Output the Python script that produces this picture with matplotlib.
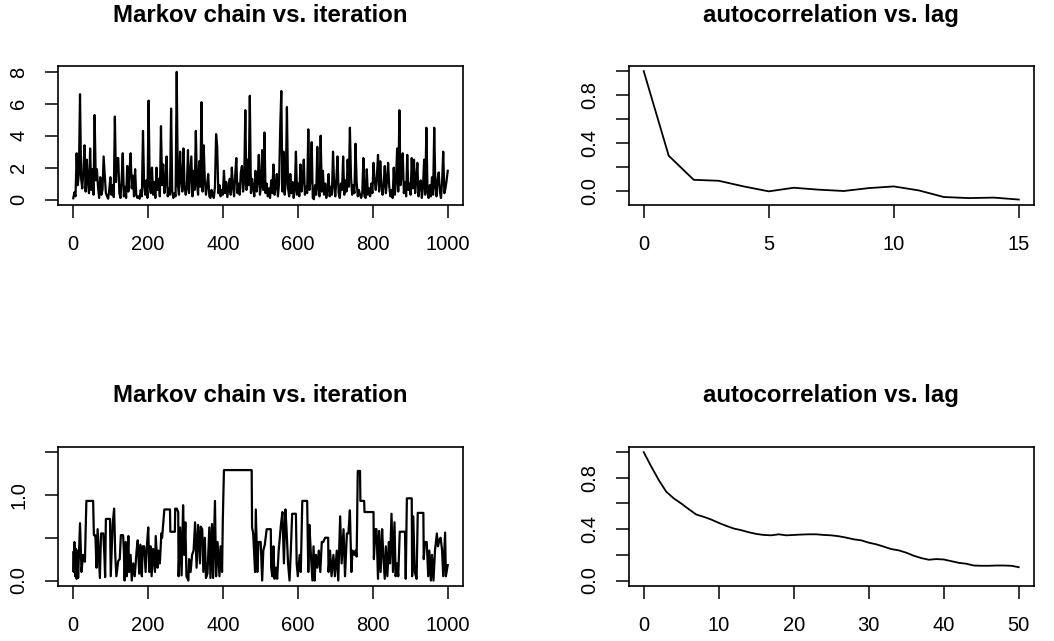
import matplotlib.pyplot as plt
import numpy as np

plt.rcParams['font.family'] = ['Liberation Sans', 'DejaVu Sans']

# chaine du haut : une valeur lue toutes les 3 iterations
iter_haut = np.arange(1, 1001, 3)
chaine_haut = [
    0.08, 0.45, 0.2, 2.9, 0.9, 1.6, 6.6, 1.3, 0.7, 1.8,
    3.4, 0.5, 2.5, 1.1, 0.4, 3.2, 0.6, 1.9, 0.3, 5.3,
    1.2, 1.9, 0.8, 0.1, 1.4, 0.3, 0.6, 2.7, 1.5, 0.4,
    0.2, 0.05, 0.6, 1.4, 0.3, 0.9, 0.15, 5.2, 1.1, 2.6,
    2.6, 0.4, 0.1, 1.2, 2.9, 0.2, 0.8, 0.1, 2.1, 0.5,
    1.8, 2.9, 0.7, 1.5, 0.2, 1.9, 0.3, 0.1, 0.2, 0.05,
    0.6, 0.2, 4.3, 0.9, 0.3, 1.2, 0.1, 6.2, 0.8, 0.4,
    2.0, 0.3, 1.1, 0.1, 2.0, 0.6, 1.3, 0.2, 4.6, 0.9,
    2.2, 0.4, 1.0, 2.7, 0.2, 0.7, 0.3, 5.7, 0.5, 0.1,
    0.4, 0.2, 8.0, 0.9, 0.3, 3.0, 1.2, 0.5, 3.2, 0.8,
    0.3, 0.7, 3.1, 0.4, 1.5, 2.7, 0.2, 1.8, 0.6, 4.3,
    1.0, 0.3, 2.4, 0.8, 6.1, 0.5, 3.4, 1.2, 0.3, 0.9,
    1.6, 0.2, 0.1, 0.6, 0.3, 0.1, 0.8, 4.1, 3.3, 0.4,
    0.9, 0.2, 0.6, 0.3, 1.8, 0.4, 1.1, 0.15, 0.7, 1.3,
    0.3, 2.0, 0.8, 0.2, 1.5, 2.6, 0.4, 1.0, 0.3, 1.7,
    2.1, 0.5, 1.2, 5.6, 0.6, 2.5, 0.9, 6.5, 0.4, 1.3,
    0.7, 0.2, 1.8, 0.5, 1.1, 2.8, 0.3, 0.9, 3.1, 0.6,
    4.2, 0.4, 1.0, 0.2, 0.7, 0.1, 1.2, 0.4, 2.2, 0.3,
    0.8, 1.6, 0.2, 1.0, 4.4, 6.8, 0.5, 3.0, 0.3, 1.1,
    5.8, 0.7, 0.2, 1.6, 0.4, 1.1, 0.1, 0.6, 3.0, 0.3,
    1.0, 0.2, 2.2, 0.5, 1.2, 2.5, 0.3, 0.8, 0.4, 4.4,
    0.6, 1.2, 3.6, 0.1, 0.02, 0.9, 0.3, 3.3, 0.7, 0.2,
    4.0, 0.5, 1.8, 0.3, 1.0, 0.1, 0.6, 1.6, 0.2, 0.8,
    0.3, 3.0, 0.9, 0.2, 1.3, 2.7, 0.4, 0.1, 1.0, 0.6,
    2.7, 0.3, 1.2, 0.5, 2.5, 0.8, 4.5, 1.4, 0.3, 0.9,
    0.4, 3.5, 1.1, 0.2, 0.6, 0.3, 0.1, 0.4, 2.6, 0.2,
    0.1, 1.9, 0.3, 0.7, 0.2, 1.0, 0.4, 2.3, 1.2, 0.6,
    1.4, 2.8, 0.5, 2.4, 1.0, 0.3, 0.9, 2.1, 0.4, 1.2,
    2.3, 0.8, 0.2, 0.6, 0.1, 2.0, 0.3, 1.2, 3.2, 0.5,
    5.6, 0.9, 1.5, 2.9, 0.4, 1.1, 0.2, 2.8, 0.6, 1.0,
    0.3, 2.6, 0.7, 2.5, 0.4, 1.2, 2.3, 0.2, 0.9, 1.2,
    0.1, 0.8, 2.5, 0.3, 4.5, 0.6, 0.1, 0.9, 0.2, 1.4,
    0.3, 4.5, 0.8, 0.2, 1.3, 1.7, 0.5, 0.1, 1.1, 3.0,
    0.4, 0.7, 1.2, 1.8,
]

lag_haut = np.arange(0, 16)
acf_haut = [1.0, 0.296, 0.096, 0.088, 0.041, 0.0, 0.030, 0.014, 0.003,
            0.027, 0.041, 0.008, -0.047, -0.056, -0.052, -0.068]

# chaine du bas (iteration, valeur) : les paliers sont les rejets
trace_bas = [
    (1, 0.33), (2, 0.1), (4, 0.45), (6, 0.05), (8, 0.37), (10, 0.02), (12, 0.35),
    (14, 0.03), (16, 0.3), (19, 0.67), (23, 0.1), (27, 0.3), (32, 0.22), (36, 0.93),
    (54, 0.93), (56, 0.53), (60, 0.53), (63, 0.15), (66, 0.6), (72, 0.03), (75, 0.55),
    (81, 0.55), (84, 0.3), (86, 0.04), (88, 0.72), (99, 0.72), (101, 0.05), (106, 0.65),
    (110, 0.84), (113, 0.3), (116, 0.05), (121, 0.23), (125, 0.25), (128, 0.53),
    (134, 0.53), (136, 0.35), (138, 0.0), (141, 0.45), (144, 0.05), (148, 0.52),
    (150, 0.1), (154, 0.3), (157, 0.0), (161, 0.2), (165, 0.05), (170, 0.35),
    (173, 0.47), (177, 0.08), (180, 0.42), (184, 0.05), (186, 0.4), (190, 0.4),
    (194, 0.1), (197, 0.38), (201, 0.62), (204, 0.1), (207, 0.4), (210, 0.05),
    (214, 0.37), (219, 0.1), (221, 0.52), (226, 0.15), (228, 0.35), (232, 0.2),
    (236, 0.55), (238, 0.5), (244, 0.83), (259, 0.83), (260, 0.57), (272, 0.57),
    (273, 0.84), (277, 0.84), (281, 0.8), (282, 0.05), (286, 0.62), (290, 0.06),
    (294, 0.88), (297, 0.3), (300, 0.68), (303, 0.05), (308, 0.0), (310, 0.25),
    (314, 0.1), (318, 0.3), (322, 0.35), (326, 0.68), (330, 0.15), (334, 0.65),
    (339, 0.2), (341, 0.63), (345, 0.6), (348, 0.1), (352, 0.5), (355, 0.03),
    (359, 0.08), (364, 0.62), (367, 0.03), (371, 0.66), (374, 0.03), (379, 0.93),
    (382, 0.05), (386, 0.45), (391, 0.05), (394, 0.4), (398, 0.1), (400, 0.72),
    (403, 1.29), (477, 1.29), (478, 0.62), (481, 0.55), (486, 0.1), (488, 0.83),
    (492, 0.1), (495, 0.45), (501, 0.45), (505, 0.0), (508, 0.35), (512, 0.42),
    (517, 0.6), (528, 0.6), (529, 0.15), (532, 0.05), (535, 0.4), (538, 0.02),
    (542, 0.15), (545, 0.02), (549, 0.35), (552, 0.5), (555, 0.65), (559, 0.8),
    (563, 0.2), (567, 0.83), (570, 0.6), (574, 0.2), (578, 0.0), (581, 0.3),
    (585, 0.78), (595, 0.78), (597, 0.2), (600, 0.05), (605, 0.3), (608, 0.1),
    (612, 0.93), (625, 0.93), (628, 0.1), (631, 0.65), (635, 0.3), (639, 0.0),
    (642, 0.4), (645, 0.0), (648, 0.3), (652, 0.15), (656, 0.35), (660, 0.1),
    (664, 0.45), (668, 0.45), (673, 0.5), (681, 0.5), (682, 0.1), (686, 0.35),
    (690, 0.05), (695, 0.3), (699, 0.05), (704, 0.35), (708, 0.0), (713, 0.75),
    (717, 0.2), (722, 0.6), (726, 0.05), (731, 0.55), (735, 0.55), (739, 0.82),
    (743, 0.1), (746, 0.35), (751, 0.3), (754, 0.35), (757, 0.28), (760, 1.28),
    (766, 1.28), (767, 0.93), (777, 0.93), (778, 0.8), (802, 0.8), (803, 0.25),
    (807, 0.6), (810, 0.6), (814, 0.02), (817, 0.58), (821, 0.1), (825, 0.6),
    (828, 0.3), (832, 0.02), (835, 0.4), (839, 0.05), (843, 0.45), (846, 0.2),
    (850, 0.78), (854, 0.1), (858, 0.68), (861, 0.05), (865, 0.2), (868, 0.05),
    (872, 0.57), (886, 0.57), (888, 0.02), (891, 0.96), (904, 0.96), (905, 0.05),
    (908, 0.75), (912, 0.1), (917, 0.02), (920, 0.79), (935, 0.79), (936, 0.25),
    (939, 0.45), (944, 0.45), (948, 0.05), (951, 0.35), (955, 0.0), (958, 0.3),
    (962, 0.0), (966, 0.35), (971, 0.55), (974, 0.4), (978, 0.48), (981, 0.5),
    (985, 0.35), (988, 0.05), (993, 0.56), (995, 0.05), (1000, 0.18),
]
iter_bas = [p[0] for p in trace_bas]
chaine_bas = [p[1] for p in trace_bas]

lag_bas = np.arange(0, 51)
acf_bas = [1.0, 0.888, 0.783, 0.692, 0.640, 0.600, 0.556, 0.514, 0.496, 0.475,
           0.449, 0.426, 0.405, 0.392, 0.376, 0.363, 0.355, 0.352, 0.360, 0.352,
           0.355, 0.358, 0.360, 0.360, 0.355, 0.352, 0.345, 0.334, 0.321, 0.313,
           0.295, 0.282, 0.264, 0.245, 0.235, 0.217, 0.193, 0.175, 0.162, 0.167,
           0.164, 0.151, 0.138, 0.131, 0.117, 0.115, 0.115, 0.117, 0.117, 0.115,
           0.104]


def r_lim(lo, hi):  # etendue a la R (4% de chaque cote)
    d = 0.04 * (hi - lo)
    return lo - d, hi + d


def style_r(ax, xt, yt, ylab):
    ax.set_xticks(xt)
    ax.set_xticklabels([str(v) for v in xt])
    ax.set_yticks(yt)
    ax.set_yticklabels(ylab, rotation=90, va='center')
    ax.tick_params(direction='out', length=9.5, width=1.1, labelsize=14.5, pad=12)
    for s in ax.spines.values():
        s.set_linewidth(1.2)


fig = plt.figure(figsize=(10.54, 6.41), dpi=100)

ax1 = fig.add_axes([0.0553, 0.6807, 0.3837, 0.2164])
ax2 = fig.add_axes([0.5965, 0.6807, 0.3843, 0.2164])
ax3 = fig.add_axes([0.0553, 0.0863, 0.3837, 0.2164])
ax4 = fig.add_axes([0.5965, 0.0863, 0.3843, 0.2164])

ax1.plot(iter_haut, chaine_haut, color='black', lw=1.6)
ax1.set_xlim(r_lim(1, 1000))
ax1.set_ylim(r_lim(0.0, 8.05))
style_r(ax1, range(0, 1001, 200), [0, 2, 4, 6, 8], ['0', '2', '4', '6', '8'])

ax2.plot(lag_haut, acf_haut, color='black', lw=1.3)
ax2.set_xlim(r_lim(0, 15))
ax2.set_ylim(r_lim(min(acf_haut), 1))
style_r(ax2, [0, 5, 10, 15], [0, 0.2, 0.4, 0.6, 0.8, 1.0],
        ['0.0', '', '0.4', '', '0.8', ''])

ax3.plot(iter_bas, chaine_bas, color='black', lw=1.6)
ax3.set_xlim(r_lim(1, 1000))
ax3.set_ylim(r_lim(0, 1.5))
style_r(ax3, range(0, 1001, 200), [0, 0.5, 1.0, 1.5], ['0.0', '', '1.0', ''])

ax4.plot(lag_bas, acf_bas, color='black', lw=1.3)
ax4.set_xlim(r_lim(0, 50))
ax4.set_ylim(r_lim(0, 1))
style_r(ax4, range(0, 51, 10), [0, 0.2, 0.4, 0.6, 0.8, 1.0],
        ['0.0', '', '0.4', '', '0.8', ''])

# titres
fig.text(0.2471, 0.9657, 'Markov chain vs. iteration', ha='center', va='baseline',
         fontsize=17.3, fontweight='bold')
fig.text(0.7886, 0.9657, 'autocorrelation vs. lag', ha='center', va='baseline',
         fontsize=17.3, fontweight='bold')
fig.text(0.2471, 0.3733, 'Markov chain vs. iteration', ha='center', va='baseline',
         fontsize=17.3, fontweight='bold')
fig.text(0.7886, 0.3733, 'autocorrelation vs. lag', ha='center', va='baseline',
         fontsize=17.3, fontweight='bold')

fig.savefig('out.png', dpi=100)
